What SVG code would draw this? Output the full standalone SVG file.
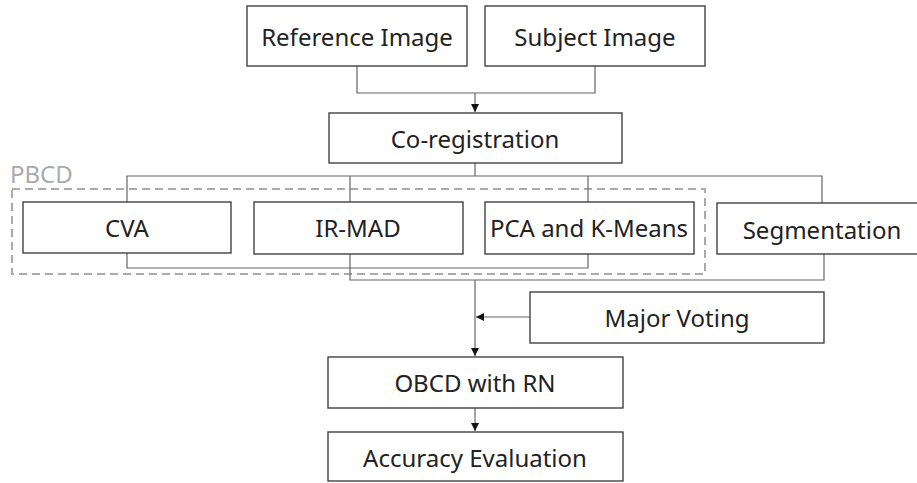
<svg xmlns="http://www.w3.org/2000/svg" width="917" height="483" viewBox="0 0 917 483">
<style>
.box{fill:#fff;stroke:#333;stroke-width:1.3}
.t{font-family:"Noto Sans","Open Sans",sans-serif;font-size:24px;fill:#222;text-anchor:middle;dominant-baseline:central}
.c{fill:none;stroke:#666;stroke-width:1.2}
.d{fill:none;stroke:#aaa;stroke-width:2;stroke-dasharray:8,5}
</style>
<defs>
<marker id="ah" viewBox="0 0 10 10" refX="10" refY="5" markerWidth="8" markerHeight="8" markerUnits="userSpaceOnUse" orient="auto">
<path d="M0,0 L10,5 L0,10 Z" fill="#111"/>
</marker>
</defs>
<rect width="917" height="483" fill="#fff"/>
<g id="pbcd">
<rect class="d" x="12" y="189" width="693" height="85"/>
<text x="10" y="183" font-family="Noto Sans, sans-serif" font-size="24" fill="#aaa">PBCD</text>
</g>
<g id="connectors">
<path class="c" d="M357,66 V93 H595 V66"/>
<path class="c" d="M475,93 V112" marker-end="url(#ah)"/>
<path class="c" d="M475,163 V176"/>
<path class="c" d="M127,202 V176 H822 V203"/>
<path class="c" d="M350,176 V202"/>
<path class="c" d="M588,176 V202"/>
<path class="c" d="M127,253 V268 H588 V254"/>
<path class="c" d="M350,254 V280 H824 V254"/>
<path class="c" d="M475,280 V356" marker-end="url(#ah)"/>
<path class="c" d="M530,317 H476" marker-end="url(#ah)"/>
<path class="c" d="M475,408 V431" marker-end="url(#ah)"/>
</g>
<g id="reference"><rect class="box" x="247" y="6" width="220" height="60"/><text class="t" x="357" y="36">Reference Image</text></g>
<g id="subject"><rect class="box" x="485" y="6" width="220" height="60"/><text class="t" x="595" y="36">Subject Image</text></g>
<g id="coreg"><rect class="box" x="329" y="113" width="293" height="50"/><text class="t" x="475" y="138">Co-registration</text></g>
<g id="cva"><rect class="box" x="23" y="202" width="208" height="51"/><text class="t" x="127" y="227">CVA</text></g>
<g id="irmad"><rect class="box" x="254" y="202" width="209" height="52"/><text class="t" x="358" y="227">IR-MAD</text></g>
<g id="pca"><rect class="box" x="485" y="202" width="209" height="52"/><text class="t" x="589" y="227">PCA and K-Means</text></g>
<g id="segmentation"><rect class="box" x="717" y="203" width="215" height="51"/><text class="t" x="822" y="229">Segmentation</text></g>
<g id="voting"><rect class="box" x="530" y="292" width="294" height="51"/><text class="t" x="677" y="317">Major Voting</text></g>
<g id="obcd"><rect class="box" x="328" y="357" width="295" height="51"/><text class="t" x="475" y="382">OBCD with RN</text></g>
<g id="accuracy"><rect class="box" x="328" y="432" width="295" height="49"/><text class="t" x="475" y="457">Accuracy Evaluation</text></g>
</svg>
